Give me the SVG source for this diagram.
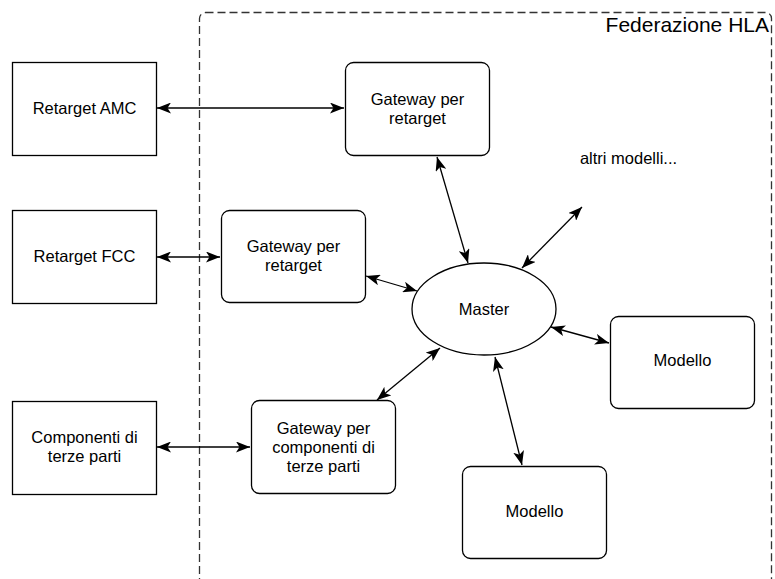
<svg xmlns="http://www.w3.org/2000/svg" width="775" height="579" viewBox="0 0 775 579">
  <style>
    .box { fill: #ffffff; stroke: #000000; stroke-width: 1.3; }
    .lbl { font-family: "Liberation Sans", Arial, Helvetica, sans-serif; font-size: 16.5px; fill: #000000; text-anchor: middle; }
    .edge { stroke: #000000; stroke-width: 1.3; fill: none; marker-start: url(#arrow); marker-end: url(#arrow); }
    .frame { fill: none; stroke: #333333; stroke-width: 1.3; stroke-dasharray: 8 4; }
  </style>
  <defs>
    <marker id="arrow" markerUnits="userSpaceOnUse" viewBox="0 0 14 11" refX="14" refY="5.5" markerWidth="14" markerHeight="11" orient="auto-start-reverse">
      <path d="M0,0 L14,5.5 L0,11 L3.5,5.5 Z" fill="#000000"/>
    </marker>
  </defs>
  <rect width="775" height="579" fill="#ffffff"/>

  <!-- HLA federation boundary -->
  <g id="federazione">
    <rect class="frame" x="199.5" y="12.5" width="572" height="580" rx="6"/>
    <text x="769" y="32" font-family="Liberation Sans, Arial, sans-serif" font-size="21" text-anchor="end" fill="#000000">Federazione HLA</text>
  </g>

  <!-- connectors -->
  <g id="connectors">
    <line class="edge" x1="157" y1="108" x2="344" y2="108"/>
    <line class="edge" x1="157" y1="257" x2="220" y2="257"/>
    <line class="edge" x1="157" y1="447" x2="250" y2="447"/>
    <line class="edge" x1="437" y1="157" x2="468" y2="263"/>
    <line class="edge" x1="366" y1="276" x2="417" y2="291"/>
    <line class="edge" x1="522" y1="268" x2="582" y2="207"/>
    <line class="edge" x1="551" y1="327" x2="609" y2="343"/>
    <line class="edge" x1="440" y1="348" x2="377" y2="400"/>
    <line class="edge" x1="495" y1="357" x2="522" y2="465"/>
  </g>

  <g id="retarget-amc">
    <rect class="box" x="12.5" y="62.5" width="144" height="93"/>
    <text class="lbl" x="84.5" y="114">Retarget AMC</text>
  </g>
  <g id="gateway-amc">
    <rect class="box" x="345.5" y="62.5" width="144" height="93" rx="8"/>
    <text class="lbl" x="417.5" y="105">Gateway per</text>
    <text class="lbl" x="417.5" y="124">retarget</text>
  </g>
  <g id="retarget-fcc">
    <rect class="box" x="12.5" y="210.5" width="144" height="93"/>
    <text class="lbl" x="84.5" y="262">Retarget FCC</text>
  </g>
  <g id="gateway-fcc">
    <rect class="box" x="221.5" y="210.5" width="144" height="92" rx="8"/>
    <text class="lbl" x="293.5" y="252">Gateway per</text>
    <text class="lbl" x="293.5" y="271">retarget</text>
  </g>
  <g id="componenti">
    <rect class="box" x="12.5" y="401.5" width="144" height="93"/>
    <text class="lbl" x="84.5" y="443">Componenti di</text>
    <text class="lbl" x="84.5" y="462">terze parti</text>
  </g>
  <g id="gateway-componenti">
    <rect class="box" x="251.5" y="400.5" width="144" height="93" rx="8"/>
    <text class="lbl" x="323.5" y="434">Gateway per</text>
    <text class="lbl" x="323.5" y="453">componenti di</text>
    <text class="lbl" x="323.5" y="472">terze parti</text>
  </g>
  <g id="master">
    <ellipse class="box" cx="484" cy="309" rx="72" ry="46"/>
    <text class="lbl" x="484" y="315">Master</text>
  </g>
  <g id="modello-destra">
    <rect class="box" x="610.5" y="316.5" width="144" height="92" rx="8"/>
    <text class="lbl" x="682.5" y="366">Modello</text>
  </g>
  <g id="modello-basso">
    <rect class="box" x="462.5" y="466.5" width="144" height="92" rx="8"/>
    <text class="lbl" x="534.5" y="517">Modello</text>
  </g>
  <g id="altri-modelli">
    <text class="lbl" x="628.5" y="164">altri modelli...</text>
  </g>
</svg>
